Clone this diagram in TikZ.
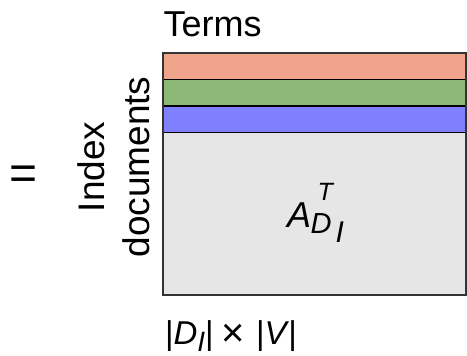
\documentclass[tikz,border=0pt]{standalone}
\usepackage{fontspec}
\setmainfont{Liberation Sans}
\definecolor{rowred}{RGB}{240,164,140}
\definecolor{rowgreen}{RGB}{141,185,120}
\definecolor{rowblue}{RGB}{128,128,255}
\definecolor{matgray}{RGB}{230,230,230}
\definecolor{edgegray}{RGB}{51,51,51}
\begin{document}
\begin{tikzpicture}[x=1pt,y=-1pt,
  every node/.style={inner sep=0pt, outer sep=0pt},
  lbl/.style={anchor=base west, font=\fontsize{#1}{#1}\selectfont},
  row/.style={draw=black, line width=1.2pt},
  mathit/.style={anchor=base west, font=\itshape\fontsize{#1}{#1}\selectfont}]
\useasboundingbox (0,0) rectangle (467,356);

% matrix body and the three highlighted rows
\filldraw[fill=matgray, draw=edgegray, line width=1.5pt] (163,53) rectangle (466,295);
\filldraw[row, fill=rowred]   (163,53)   rectangle (466,79.5);
\filldraw[row, fill=rowgreen] (163,79.5) rectangle (466,106);
\filldraw[row, fill=rowblue]  (163,106)  rectangle (466,132.5);
\draw[edgegray, line width=1.5pt] (163,53) rectangle (466,295);

% labels
\node[lbl=36] (terms) at (163.5,36) {Terms};
\node[rotate=90, align=center, font=\fontsize{37}{45}\selectfont] (rows) at (114,167) {Index\\documents};
\node[anchor=base west, font=\fontsize{48}{48}\selectfont] (eq) at (9.7,189.5) {=};

% A^T_{D_I}
\node[mathit=36] (A) at (287,227) {A};
\node[mathit=25] (Tsup) at (317.5,200) {T};
\node[mathit=29] (Dsub) at (310.5,233) {D};
\node[mathit=30] (Isub) at (335.5,242) {I};

% matrix dimensions
\node[lbl=33] (dims) at (165,344) {|\textit{D}\raisebox{-7pt}{\fontsize{28}{28}\selectfont\textit{I}}|\hspace{8pt}\raisebox{-2.5pt}{\fontsize{40}{40}\selectfont ×}\hspace{11pt}|\textit{V}\hspace{-1pt}|};
\end{tikzpicture}
\end{document}
